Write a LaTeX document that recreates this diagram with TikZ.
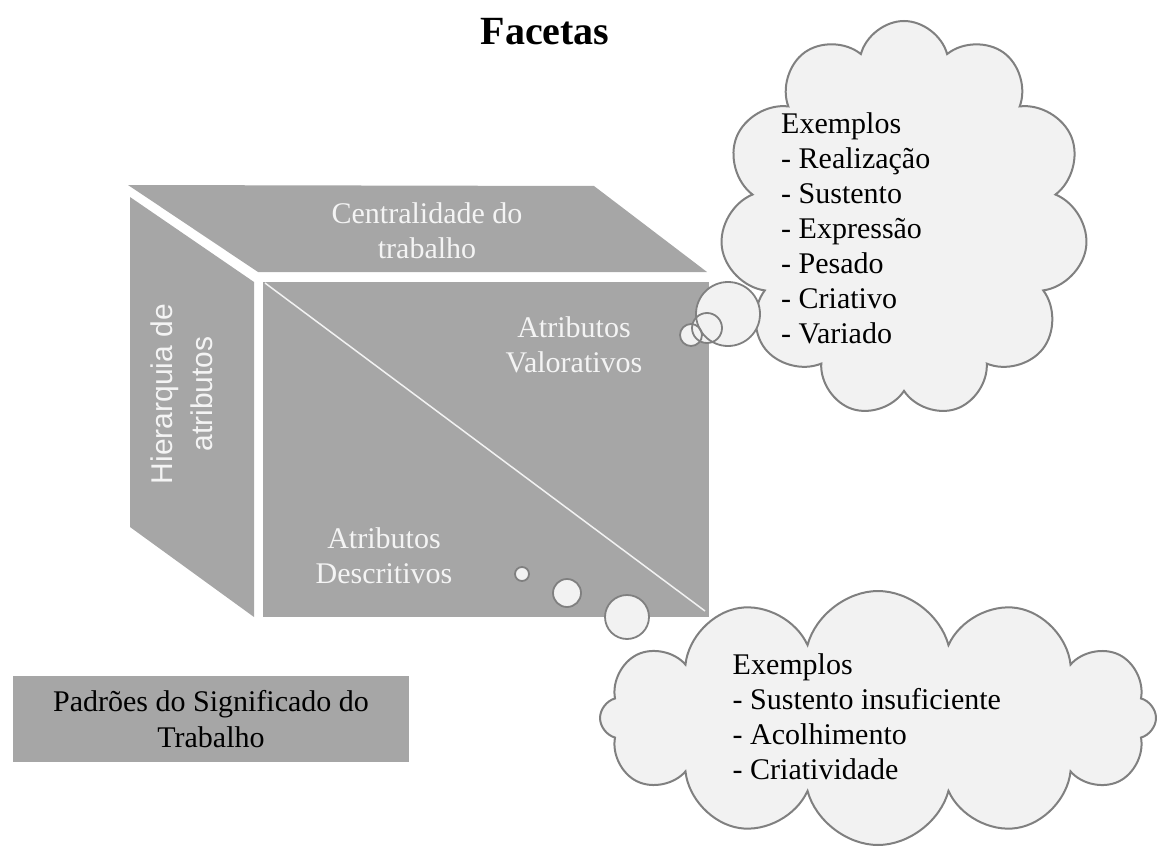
\documentclass[tikz,border=0pt]{standalone}
\usepackage{fontspec}
\setmainfont{Liberation Serif}
\setsansfont{Liberation Sans}
\usetikzlibrary{shapes.symbols, positioning}

\definecolor{facegray}{HTML}{A6A6A6}
\definecolor{facetext}{HTML}{F4F4F4}
\definecolor{cloudfill}{HTML}{F2F2F2}
\definecolor{cloudline}{HTML}{808080}

\begin{document}
\begin{tikzpicture}[
    x=1pt, y=-1pt,
    face/.style={fill=facegray, draw=none},
    facelabel/.style={text=facetext, font=\fontsize{30}{35}\selectfont, align=center},
    thought/.style={cloud, cloud ignores aspect, draw=cloudline, line width=2pt,
        fill=cloudfill, inner sep=0pt},
    bubble/.style={circle, draw=cloudline, line width=1.8pt, inner sep=0pt},
    examples/.style={font=\fontsize{30}{35}\selectfont, align=left,
        anchor=north west, inner sep=0pt}
]

    \useasboundingbox (0,0) rectangle (1157,848);

    % Title
    \node[font=\bfseries\fontsize{40}{48}\selectfont, anchor=base] (title) at (545,45) {Facetas};

    % Cube faces
    \fill[face] (128,185) -- (594,186) -- (707,272) -- (258,272) -- cycle;
    \fill[face] (130,197) -- (254,282) -- (254,617) -- (130,527) -- cycle;
    \fill[face] (263,282) rectangle (709,617);
    \coordinate (dstart) at (265,283);
    \coordinate (dend) at (705,611);
    \draw[white!85!facegray, line width=1.5pt] (dstart) -- (dend);

    % Face labels
    \node[facelabel] (central) at (427,231) {Centralidade do\\trabalho};
    \node[facelabel] (valor) at (574,345) {Atributos\\Valorativos};
    \node[facelabel] (descr) at (384,556) {Atributos\\Descritivos};
    \node[facelabel, font=\sffamily\fontsize{30}{40}\selectfont, rotate=90] (hier) at (182,394)
        {Hierarquia de\\atributos};

    % Clouds
    \node[thought, cloud puffs=11, minimum width=368, minimum height=396] (cloudup) at (904,219) {};
    \node[thought, cloud puffs=12, minimum width=556, minimum height=254] (clouddown) at (878,718) {};

    \node[examples] (listup) at (781,112.5)
        {Exemplos\\- Realização\\- Sustento\\- Expressão\\- Pesado\\- Criativo\\- Variado};
    \node[examples] (listdown) at (732.5,653)
        {Exemplos\\- Sustento insuficiente\\- Acolhimento\\- Criatividade};

    % Thought bubbles
    \foreach \x/\y/\r in {728/314/32, 707/328/15, 691/335/11, 522/574/7, 567/593/14, 627/617/22}
        \fill[cloudfill] (\x,\y) circle[radius=\r];
    \foreach \x/\y/\r [count=\k] in {728/314/32, 707/328/15, 691/335/11, 522/574/7, 567/593/14, 627/617/22}
        \node[bubble, minimum size=2*\r] (b\k) at (\x,\y) {};

    % Legend box
    \node[fill=facegray, minimum width=396, minimum height=86, align=center,
        font=\fontsize{30}{36}\selectfont] (legend) at (211,719)
        {Padrões do Significado do\\Trabalho};

\end{tikzpicture}
\end{document}
